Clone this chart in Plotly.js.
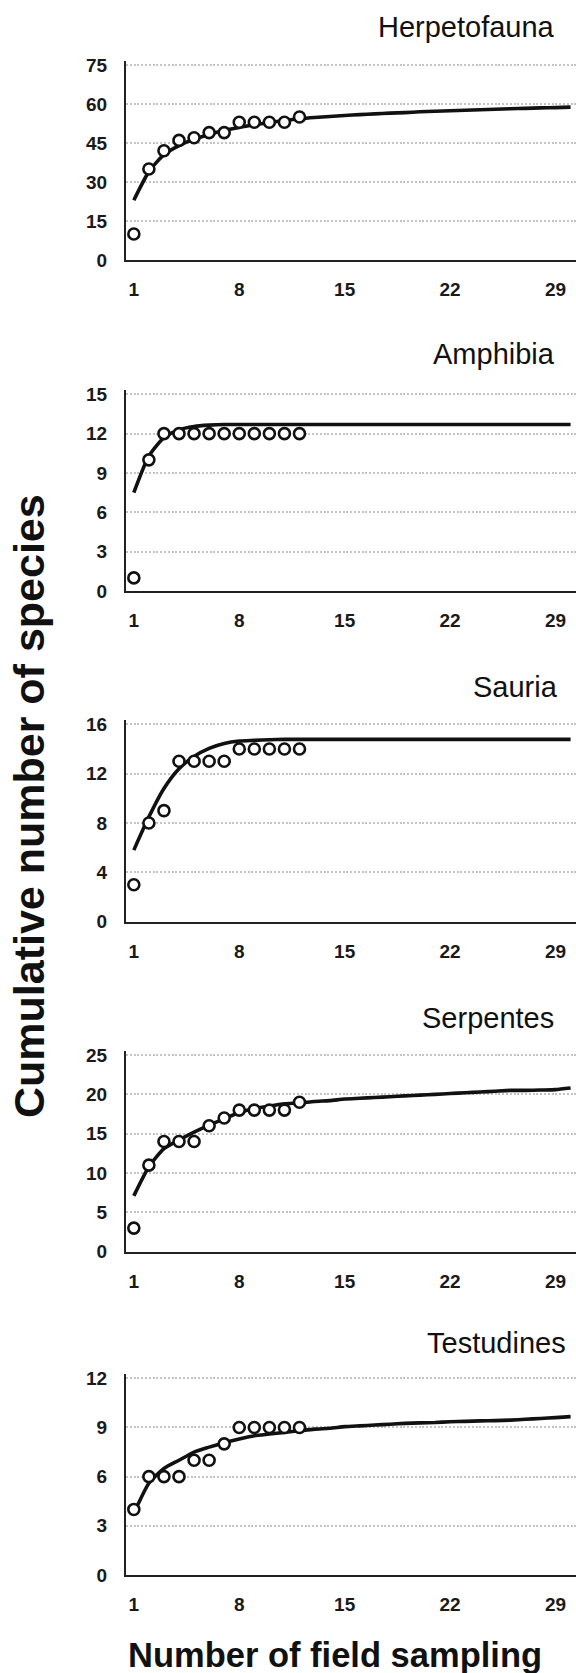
<!DOCTYPE html>
<html>
<head>
<meta charset="utf-8">
<script src="https://cdn.plot.ly/plotly-3.0.1.min.js"></script>
<style>html,body{margin:0;padding:0;background:#fff;}#chart{width:576px;height:1673px;}</style>
</head>
<body>
<div id="chart"></div>
<script>
// ---- data ----
const groupNames = ["Herpetofauna", "Amphibia", "Sauria", "Serpentes", "Testudines"];
const samplingObs = [1,2,3,4,5,6,7,8,9,10,11,12];
const samplingFit = [1,2,3,4,5,6,7,8,9,10,11,12,13,14,15,16,17,18,19,20,21,22,23,24,25,26,27,28,29,30];
const xTickVals = [1, 8, 15, 22, 29];

const herpetofaunaObs = [10, 35, 42, 46, 47, 49, 49, 53, 53, 53, 53, 55];
const herpetofaunaFit = [23, 34, 40.5, 44, 46.5, 48.3, 49.8, 51, 52, 52.9, 53.6, 54.3, 54.8, 55.2, 55.6, 55.9, 56.2, 56.5, 56.7, 57, 57.2, 57.4, 57.6, 57.8, 58, 58.2, 58.3, 58.5, 58.6, 58.8];

const amphibiaObs = [1, 10, 12, 12, 12, 12, 12, 12, 12, 12, 12, 12];
const amphibiaFit = [7.5, 10.3, 11.7, 12.3, 12.55, 12.65, 12.7, 12.7, 12.7, 12.7, 12.7, 12.7, 12.7, 12.7, 12.7, 12.7, 12.7, 12.7, 12.7, 12.7, 12.7, 12.7, 12.7, 12.7, 12.7, 12.7, 12.7, 12.7, 12.7, 12.7];

const sauriaObs = [3, 8, 9, 13, 13, 13, 13, 14, 14, 14, 14, 14];
const sauriaFit = [5.8, 8.5, 10.8, 12.4, 13.4, 14.05, 14.45, 14.65, 14.7, 14.75, 14.78, 14.78, 14.78, 14.78, 14.78, 14.78, 14.78, 14.78, 14.78, 14.78, 14.78, 14.78, 14.78, 14.78, 14.78, 14.78, 14.78, 14.78, 14.78, 14.78];

const serpentesObs = [3, 11, 14, 14, 14, 16, 17, 18, 18, 18, 18, 19];
const serpentesFit = [7.1, 10.8, 13.1, 14.2, 15.2, 16.1, 16.9, 17.7, 18.2, 18.5, 18.8, 18.9, 19.1, 19.2, 19.4, 19.5, 19.6, 19.7, 19.8, 19.9, 20, 20.1, 20.2, 20.3, 20.4, 20.5, 20.5, 20.55, 20.6, 20.8];

const testudinesObs = [4, 6, 6, 6, 7, 7, 8, 9, 9, 9, 9, 9];
const testudinesFit = [3.76, 5.6, 6.5, 7.0, 7.5, 7.8, 8.07, 8.3, 8.5, 8.6, 8.7, 8.8, 8.9, 8.95, 9.05, 9.1, 9.15, 9.2, 9.25, 9.28, 9.3, 9.35, 9.37, 9.4, 9.42, 9.45, 9.5, 9.55, 9.6, 9.66];

const yMax = [75, 15, 16, 25, 12];
const yStep = [15, 3, 4, 5, 3];

const yAxisTitle = "Cumulative number of species";
const xAxisTitle = "Number of field sampling";

// ---- layout helpers ----
const W = 576, H = 1673;
const obsSeries = [herpetofaunaObs, amphibiaObs, sauriaObs, serpentesObs, testudinesObs];
const fitSeries = [herpetofaunaFit, amphibiaFit, sauriaFit, serpentesFit, testudinesFit];
const panelTopPx = [65, 394.3, 724.3, 1055, 1378.3];   // pixel of the max tick
const panelBotPx = [260, 591, 921.7, 1251.7, 1575];    // pixel of zero
const titleYPx = [27, 354.5, 687, 1018, 1343];
const titleRightPx = [557, 557, 560, 556, 568];
const plotLeftPx = 126;
const headroomPx = 4;
const gridColor = "#c4c4c4";
const gridDash = "2px,1.8px";

const tickFont = {family: "Liberation Sans, Arial, sans-serif", size: 19, color: "#1a1a1a", weight: "bold"};

const data = [];
const layout = {
  width: W, height: H,
  margin: {l: 0, r: 0, t: 0, b: 0},
  paper_bgcolor: "#ffffff", plot_bgcolor: "#ffffff",
  showlegend: false,
  annotations: []
};

for (let i = 0; i < 5; i++) {
  const sfx = i === 0 ? "" : String(i + 1);
  data.push({
    type: "scatter", mode: "lines",
    x: samplingFit, y: fitSeries[i],
    xaxis: "x" + sfx, yaxis: "y" + sfx,
    line: {color: "#111111", width: 3.6, shape: "spline", smoothing: 0.6},
    hoverinfo: "skip"
  });
  data.push({
    type: "scatter", mode: "markers",
    x: samplingObs, y: obsSeries[i],
    xaxis: "x" + sfx, yaxis: "y" + sfx,
    marker: {symbol: "circle", size: 11, color: "#ffffff", line: {color: "#111111", width: 2.6}},
    cliponaxis: false,
    hoverinfo: "skip"
  });
  const spanPx = panelBotPx[i] - panelTopPx[i];
  const yTop = yMax[i] * (1 + headroomPx / spanPx);
  const yd = [1 - panelBotPx[i] / H, 1 - (panelTopPx[i] - headroomPx) / H];
  layout["xaxis" + sfx] = {
    domain: [plotLeftPx / W, 1],
    anchor: "y" + sfx,
    range: [0.48, 30.36],
    tickmode: "array", tickvals: xTickVals, ticktext: xTickVals.map(String),
    showgrid: false, zeroline: false,
    showline: true, linecolor: "#222222", linewidth: 2,
    ticks: "outside", ticklen: 11, tickcolor: "rgba(0,0,0,0)",
    tickfont: tickFont, fixedrange: true
  };
  layout["yaxis" + sfx] = {
    domain: yd,
    anchor: "x" + sfx,
    range: [0, yTop],
    tickmode: "linear", tick0: 0, dtick: yStep[i],
    showgrid: true, gridcolor: gridColor, gridwidth: 2, griddash: gridDash,
    zeroline: false,
    showline: true, linecolor: "#222222", linewidth: 2,
    ticks: "outside", ticklen: 13, tickcolor: "rgba(0,0,0,0)",
    tickfont: tickFont, fixedrange: true
  };
  layout.annotations.push({
    xref: "paper", yref: "paper",
    x: titleRightPx[i] / W, y: 1 - titleYPx[i] / H,
    xanchor: "right", yanchor: "middle",
    text: groupNames[i], showarrow: false,
    font: {family: "Liberation Sans, Arial, sans-serif", size: 29, color: "#111111"}
  });
}

layout.annotations.push({
  xref: "paper", yref: "paper",
  x: 29 / W, y: 1 - 806 / H,
  xanchor: "center", yanchor: "middle", textangle: -90,
  text: yAxisTitle, showarrow: false,
  font: {family: "Liberation Sans, Arial, sans-serif", size: 43, color: "#111111", weight: "bold"}
});
layout.annotations.push({
  xref: "paper", yref: "paper",
  x: 335 / W, y: 1 - 1655 / H,
  xanchor: "center", yanchor: "middle",
  text: xAxisTitle, showarrow: false,
  font: {family: "Liberation Sans, Arial, sans-serif", size: 34.5, color: "#111111", weight: "bold"}
});

Plotly.newPlot("chart", data, layout, {staticPlot: true, displayModeBar: false});
</script>
</body>
</html>
